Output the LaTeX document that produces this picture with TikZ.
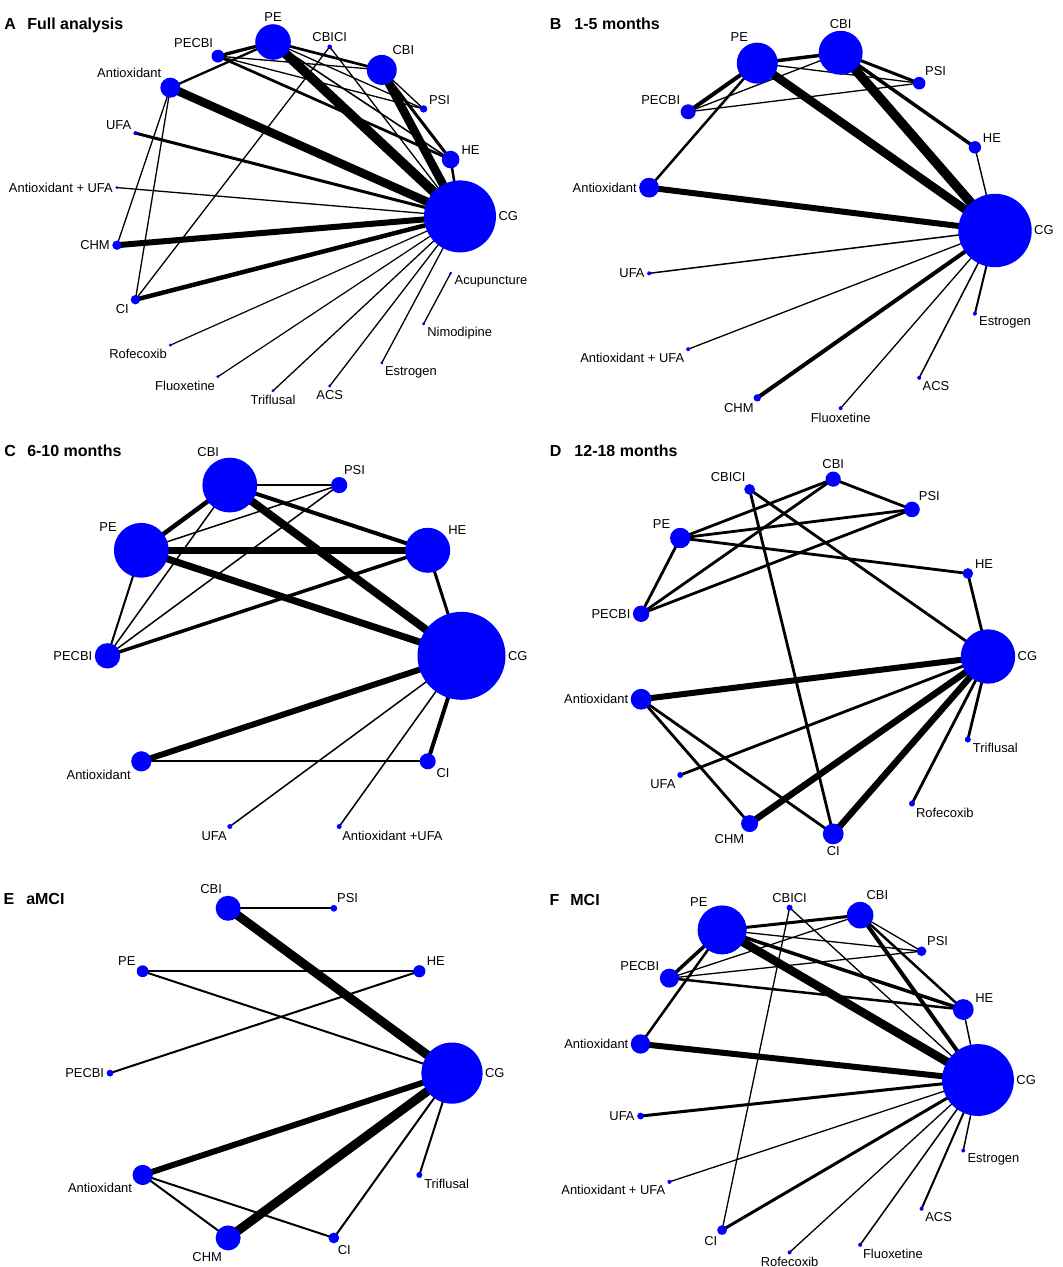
\documentclass[tikz,border=0pt]{standalone}
\usepackage{fontspec}
\setmainfont{Liberation Sans}
\usepackage{tikz}
\usetikzlibrary{backgrounds}
\definecolor{netblue}{HTML}{0000FF}

\tikzset{
  trt/.style={circle, fill=netblue, draw=none, inner sep=0pt, minimum size=#1*1.5pt},
  every label/.style={font=\fontsize{9.7}{11}\selectfont, inner sep=1.5pt, label distance=0pt},
  panelid/.style={font=\fontsize{12}{14}\selectfont\bfseries, anchor=base west, inner sep=0pt},
  cmp/.style={line width=#1*0.75pt, black}
}

\begin{document}
\begin{tikzpicture}[x=0.75pt, y=-0.75pt]
\useasboundingbox (0,0) rectangle (1063,1267);
\begin{scope}[on background layer]
  \fill[white] (0,0) rectangle (1063,1267);
\end{scope}

% panel titles
\node[panelid] (idA) at (4,29.5) {A};
\node[panelid] (ttlA) at (27,29.5) {Full analysis};
\node[panelid] (idB) at (549.7,29.5) {B};
\node[panelid] (ttlB) at (574.2,29.5) {1-5 months};
\node[panelid] (idC) at (4,456.5) {C};
\node[panelid] (ttlC) at (27,456.5) {6-10 months};
\node[panelid] (idD) at (549.7,456.5) {D};
\node[panelid] (ttlD) at (574.2,456.5) {12-18 months};
\node[panelid] (idE) at (3.4,904.8) {E};
\node[panelid] (ttlE) at (26,904.8) {aMCI};
\node[panelid] (idF) at (549.4,905) {F};
\node[panelid] (ttlF) at (570.1,905) {MCI};

% A: full analysis
\foreach \nm/\txt/\rad [count=\k from 0] in {CG/CG/36, HE/HE/8.8, PSI/PSI/3.7, CBI/CBI/15, CBICI/CBICI/2.3, PE/PE/17.8, PECBI/PECBI/6.4, Antioxidant/Antioxidant/10, UFA/UFA/2, AUFA/Antioxidant + UFA/1.6, CHM/CHM/4.7, CI/CI/4.7, Rofecoxib/Rofecoxib/1.6, Fluoxetine/Fluoxetine/1.6, Triflusal/Triflusal/1.6, ACS/ACS/1.6, Estrogen/Estrogen/1.6, Nimodipine/Nimodipine/1.6, Acupuncture/Acupuncture/1.6}{
  \pgfmathsetmacro\ang{\k*360/19}
  \pgfmathsetmacro\la{abs(\ang-90*round(\ang/90))<15 ? 90*round(\ang/90) : \ang}
  \node[trt=\rad, label/.expanded={\la:\txt}] (a\nm) at ({287.3+172.7*cos(\ang)},{216.4-175*sin(\ang)}) {};
}
\begin{scope}[on background layer]
\foreach \src/\dst/\wd in {PE/CG/9.5, Antioxidant/CG/8.5, CBI/CG/8.5, CHM/CG/6, CI/CG/4.5, UFA/CG/3, AUFA/CG/1.3, Rofecoxib/CG/1.2, Fluoxetine/CG/1.2, Triflusal/CG/1.3, ACS/CG/1.3, Estrogen/CG/1.3, Acupuncture/Nimodipine/1.3, HE/CG/2.5, PE/PECBI/3.3, Antioxidant/PE/2.3, Antioxidant/CHM/1.3, Antioxidant/CI/1.3, CBICI/CI/1.3, CBICI/CG/1.3, PE/CBI/2.7, PE/PSI/1.3, PE/HE/1.6, PECBI/CBI/1.3, PECBI/PSI/1.3, PECBI/HE/2.7, CBI/PSI/1.3, CBI/HE/3}
  \draw[cmp=\wd] (a\src.center) -- (a\dst.center);
\end{scope}

% B: 1-5 months
\foreach \nm/\txt/\rad [count=\k from 0] in {CG/CG/36.7, HE/HE/6.2, PSI/PSI/6.3, CBI/CBI/22, PE/PE/20.5, PECBI/PECBI/7.5, Antioxidant/Antioxidant/9.9, UFA/UFA/2, AUFA/Antioxidant + UFA/2, CHM/CHM/3.7, Fluoxetine/Fluoxetine/2, ACS/ACS/2, Estrogen/Estrogen/2}{
  \pgfmathsetmacro\ang{\k*360/13}
  \pgfmathsetmacro\la{abs(\ang-90*round(\ang/90))<15 ? 90*round(\ang/90) : \ang}
  \node[trt=\rad, label/.expanded={\la:\txt}] (b\nm) at ({819.5+175.5*cos(\ang)},{230.5-179*sin(\ang)}) {};
}
\begin{scope}[on background layer]
\foreach \src/\dst/\wd in {PE/CG/8.5, CBI/CG/9.5, Antioxidant/CG/6, CBI/HE/3.5, HE/CG/1.4, PE/CBI/3.5, PE/PSI/1.3, CBI/PSI/3, PECBI/CBI/1.3, PECBI/PSI/1.3, PE/PECBI/4, Antioxidant/PE/2.5, UFA/CG/1.5, AUFA/CG/1.3, CHM/CG/4, Fluoxetine/CG/1.3, ACS/CG/1.5, Estrogen/CG/2}
  \draw[cmp=\wd] (b\src.center) -- (b\dst.center);
\end{scope}

% C: 6-10 months
\foreach \nm/\txt/\rad [count=\k from 0] in {CG/CG/44, HE/HE/22.5, PSI/PSI/8.1, CBI/CBI/27.4, PE/PE/27.4, PECBI/PECBI/12.7, Antioxidant/Antioxidant/10.1, UFA/UFA/2.5, AUFA/Antioxidant +UFA/2.5, CI/CI/8}{
  \pgfmathsetmacro\ang{\k*360/10}
  \pgfmathsetmacro\la{abs(\ang-90*round(\ang/90))<15 ? 90*round(\ang/90) : \ang}
  \node[trt=\rad, label/.expanded={\la:\txt}] (c\nm) at ({284.5+177*cos(\ang)},{655.8-179.5*sin(\ang)}) {};
}
\begin{scope}[on background layer]
\foreach \src/\dst/\wd in {CBI/PSI/1.5, CBI/CG/8, CBI/HE/4, CBI/PE/4.5, CBI/PECBI/1.5, PSI/PE/1.5, PSI/PECBI/1.5, PE/HE/6.5, PE/CG/7, PE/PECBI/2, PECBI/HE/3.5, HE/CG/3, Antioxidant/CG/6, CI/CG/4, UFA/CG/1.5, AUFA/CG/1.5, Antioxidant/CI/2}
  \draw[cmp=\wd] (c\src.center) -- (c\dst.center);
\end{scope}

% D: 12-18 months
\foreach \nm/\txt/\rad [count=\k from 0] in {CG/CG/27.2, HE/HE/5.3, PSI/PSI/7.8, CBI/CBI/7.6, CBICI/CBICI/5.4, PE/PE/10.2, PECBI/PECBI/8.2, Antioxidant/Antioxidant/10.4, UFA/UFA/3, CHM/CHM/8.5, CI/CI/10.4, Rofecoxib/Rofecoxib/3, Triflusal/Triflusal/3}{
  \pgfmathsetmacro\ang{\k*360/13}
  \pgfmathsetmacro\la{abs(\ang-90*round(\ang/90))<15 ? 90*round(\ang/90) : \ang}
  \node[trt=\rad, label/.expanded={\la:\txt}] (d\nm) at ({812+176*cos(\ang)},{656.5-178.7*sin(\ang)}) {};
}
\begin{scope}[on background layer]
\foreach \src/\dst/\wd in {CBI/PSI/2.8, CBI/PE/2.8, CBI/PECBI/2.8, PSI/PE/2.8, PSI/PECBI/2.8, PE/PECBI/2.8, PE/HE/2.8, HE/CG/2.8, CBICI/CG/2.8, CBICI/CI/2.8, Antioxidant/CHM/2.8, Antioxidant/CI/2.8, UFA/CG/2.8, Triflusal/CG/2.8, Rofecoxib/CG/2.8, Antioxidant/CG/6, CHM/CG/6.5, CI/CG/6.5}
  \draw[cmp=\wd] (d\src.center) -- (d\dst.center);
\end{scope}

% E: aMCI
\foreach \nm/\txt/\rad [count=\k from 0] in {CG/CG/30.6, HE/HE/6.1, PSI/PSI/3.4, CBI/CBI/12.5, PE/PE/5.9, PECBI/PECBI/3.4, Antioxidant/Antioxidant/10.1, CHM/CHM/12.5, CI/CI/5.4, Triflusal/Triflusal/3}{
  \pgfmathsetmacro\ang{\k*360/10}
  \pgfmathsetmacro\la{abs(\ang-90*round(\ang/90))<15 ? 90*round(\ang/90) : \ang}
  \node[trt=\rad, label/.expanded={\la:\txt}] (e\nm) at ({281+171*cos(\ang)},{1073.1-173.3*sin(\ang)}) {};
}
\begin{scope}[on background layer]
\foreach \src/\dst/\wd in {CBI/PSI/2, CBI/CG/9, PE/HE/2, PE/CG/2, HE/PECBI/2, Antioxidant/CG/6, CHM/CG/9, CI/CG/2, Triflusal/CG/2, Antioxidant/CHM/2, Antioxidant/CI/2}
  \draw[cmp=\wd] (e\src.center) -- (e\dst.center);
\end{scope}

% F: MCI
\foreach \nm/\txt/\rad [count=\k from 0] in {CG/CG/35.9, HE/HE/10.4, PSI/PSI/4.8, CBI/CBI/13.3, CBICI/CBICI/3, PE/PE/24.5, PECBI/PECBI/9.5, Antioxidant/Antioxidant/9.7, UFA/UFA/3.4, AUFA/Antioxidant + UFA/2, CI/CI/4.9, Rofecoxib/Rofecoxib/2, Fluoxetine/Fluoxetine/2, ACS/ACS/2, Estrogen/Estrogen/2}{
  \pgfmathsetmacro\ang{\k*360/15}
  \pgfmathsetmacro\la{abs(\ang-90*round(\ang/90))<15 ? 90*round(\ang/90) : \ang}
  \node[trt=\rad, label/.expanded={\la:\txt}] (f\nm) at ({807.4+170.6*cos(\ang)},{1080-173.3*sin(\ang)}) {};
}
\begin{scope}[on background layer]
\foreach \src/\dst/\wd in {PE/CG/8.5, PE/CBI/3, PE/PSI/1.3, PE/HE/3.5, PE/PECBI/3.5, PE/Antioxidant/2.5, CBI/CG/4, CBI/HE/2.5, CBI/PSI/1.3, CBI/PECBI/1.3, CBICI/CG/1.3, CBICI/CI/1.3, PECBI/PSI/1.3, PECBI/HE/2.5, HE/CG/1.5, Antioxidant/CG/6, UFA/CG/3, AUFA/CG/1.3, CI/CG/3, Rofecoxib/CG/1.3, Fluoxetine/CG/1.5, ACS/CG/2, Estrogen/CG/1.5}
  \draw[cmp=\wd] (f\src.center) -- (f\dst.center);
\end{scope}
\end{tikzpicture}
\end{document}
